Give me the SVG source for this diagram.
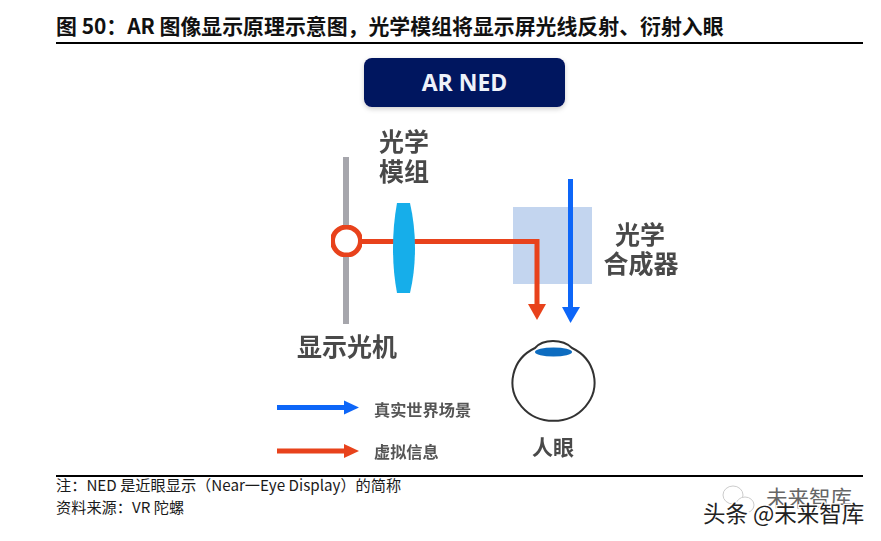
<svg xmlns="http://www.w3.org/2000/svg" width="881" height="541" viewBox="0 0 881 541">
<style>
text{font-family:"Noto Sans CJK SC","Noto Sans",sans-serif}
.lab{font-weight:700;fill:#4a4a4a;font-size:25px;text-anchor:middle}
.leg{font-weight:700;fill:#555;font-size:16.200px}
.foot{font-size:15.200px;fill:#1a1a1a}
.rule{stroke:#000;stroke-width:2;fill:none}
.red{stroke:#e8431a;stroke-width:5;fill:none}
.blue{stroke:#1166f8;stroke-width:5;fill:none}
.rh{fill:#e8431a}.bh{fill:#1166f8}
</style>
<defs><filter id="s" x="-10%" y="-20%" width="120%" height="150%"><feDropShadow dx="0" dy="2" stdDeviation="2.5" flood-color="#000" flood-opacity=".2"/></filter>
<filter id="b" x="-5%" y="-5%" width="110%" height="110%"><feGaussianBlur stdDeviation=".6"/></filter></defs>
<rect width="881" height="541" fill="#fff"/>
<g id="title"><text x="56" y="34" font-size="20.900" font-weight="700" fill="#111">图 50：AR 图像显示原理示意图，光学模组将显示屏光线反射、衍射入眼</text>
<path class="rule" d="M56 43H863"/></g>
<g id="badge"><rect x="364" y="58" width="201" height="49" rx="8" fill="#03125f" filter="url(#s)"/><text x="464.500" y="90.500" font-size="23" font-weight="700" fill="#eef2fa" text-anchor="middle" style="font-family:'Open Sans','Noto Sans',sans-serif">AR NED</text></g>
<g id="display" filter="url(#b)"><rect x="343" y="157" width="6" height="167" fill="#a6a6ac"/><text class="lab" x="347" y="356">显示光机</text></g>
<g id="combiner" filter="url(#b)"><rect x="513" y="207" width="79" height="77" fill="#c3d5ef"/><text class="lab" x="640" y="244">光学</text><text class="lab" x="641" y="273">合成器</text></g>
<g id="connectors" filter="url(#b)">
<path class="red" d="M360 241.500H537V306"/><path class="rh" d="M528 304H546L537 320Z"/>
<path class="blue" d="M570.500 179V310"/><path class="bh" d="M562 307H580L570.500 323Z"/>
<path class="blue" d="M277 407.500H346"/><path class="bh" d="M344 400.500L359 407.500L344 414.500Z"/>
<path class="red" d="M277 451H346"/><path class="rh" d="M344 444L359 451L344 458Z"/>
</g>
<g id="lens" filter="url(#b)"><text class="lab" x="404" y="151">光学</text><text class="lab" x="404" y="181">模组</text><path d="M397 203H410Q415 225 415 248Q415 272 410 293H397Q393 272 393 248Q393 225 397 203Z" fill="#18aeea"/></g>
<g id="source" filter="url(#b)"><circle cx="346.500" cy="241" r="14" fill="#fff" stroke="#e8431a" stroke-width="5"/></g>
<g id="eye" filter="url(#b)"><path d="M535 348Q541 341 553 341Q565 341 572 348A41 38.500 0 1 1 535 348Z" fill="#fff" stroke="#333" stroke-width="2"/><ellipse cx="553.500" cy="352" rx="18.500" ry="4.500" fill="#0f6cc0"/><text class="lab" x="553" y="455" style="font-size:21px">人眼</text></g>
<g id="legend" filter="url(#b)"><text class="leg" x="374" y="416">真实世界场景</text><text class="leg" x="374" y="458">虚拟信息</text></g>
<g id="footer"><path class="rule" d="M56 476H863"/><text class="foot" x="56" y="491">注：NED 是近眼显示（Near一Eye Display）的简称</text><text class="foot" x="56" y="513">资料来源：VR 陀螺</text></g>
<g id="watermark">
<text x="766" y="506" font-size="21.500" fill="#666">未来智库</text>
<ellipse cx="733" cy="495" rx="10" ry="9" fill="#fff" stroke="#ccc"/><ellipse cx="745" cy="505" rx="9" ry="8" fill="#fff" stroke="#ccc"/>
<text x="703" y="522" font-size="22.500" fill="#222" stroke="#fff" stroke-width="2.500" paint-order="stroke">头条 @未来智库</text></g>
</svg>
